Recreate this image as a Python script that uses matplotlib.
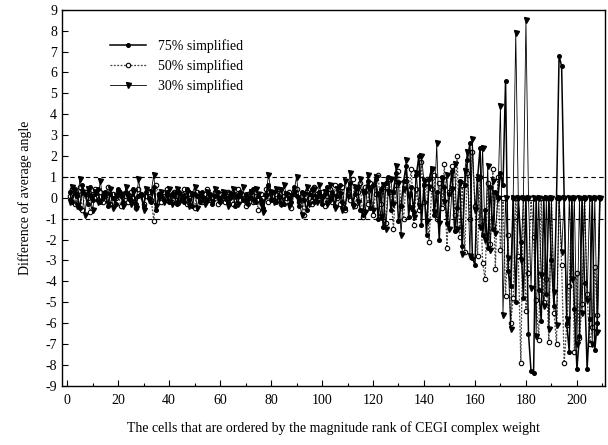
import matplotlib
matplotlib.use("Agg")
import matplotlib.pyplot as plt
from matplotlib.ticker import MultipleLocator
import numpy as np

plt.rcParams['font.family'] = ['Liberation Serif', 'DejaVu Serif']
plt.rcParams['axes.unicode_minus'] = False

# difference of average angle for each cell, ordered by CEGI weight rank
s75 = [
    0.3, -0.2, 0.4, 0.1, -0.5, 0.6, 0.2, -0.3, 0.5, -0.1, 0.2, 0.4, -0.2, 0.1, 0.3, -0.4, 0.2, 0.0, -0.3, 0.4,
    0.1, -0.2, 0.3, 0.2, -0.1, 0.4, -0.3, 0.1, 0.2, -0.4, 0.3, 0.0, -0.2, 0.5, -0.6, 0.2, 0.1, -0.1, 0.3, -0.2,
    0.2, 0.1, -0.3, 0.3, 0.0, -0.2, 0.4, -0.1, -0.4, 0.2, 0.1, -0.2, 0.3, 0.0, -0.1, 0.2, -0.3, 0.1, 0.3, -0.2,
    0.1, 0.3, -0.2, 0.0, 0.2, -0.4, 0.1, 0.3, -0.1, 0.2, -0.3, 0.0, 0.4, -0.2, 0.1, -0.1, -0.5, 0.2, 0.6, -0.1,
    0.3, -0.2, 0.1, 0.4, -0.3, 0.2, 0.0, -0.2, 0.5, 0.1, -0.4, 0.3, -0.1, -0.6, 0.2, 0.4, -0.2, 0.1, 0.3, -0.3,
    0.2, 0.5, -0.1, 0.3, -0.4, 0.1, 0.6, -0.2, -0.5, 0.4, 0.7, -0.3, 0.2, 0.5, -0.6, -0.8, 0.3, 0.8,
    -0.5, 0.6, 0.9, -1.0, 0.4, -1.4, 0.7, 1.0, -0.6, 0.3, 1.2, -1.1, -0.4, 0.8, 1.5, -0.9, 0.5, -0.7, 1.1, 2.0,
    -1.3, 0.6,
    -1.8, 0.9, 1.4, -0.8, 0.3, -2.0, 1.0, 0.5, -1.2, 0.2, 1.3, -1.6, -0.5, 0.8, -2.3, 0.6, 1.8, 2.6, -2.9, -3.2,
    0.9, 2.4, -1.8, -0.6, -2.4, 0.5, -1.5, 0.3,
    0.0, 1.2, 0.6, 5.6, -3.5, -4.2, 0.0, -5.0, 0.0, -2.1, -4.8, 0.0, -6.5, -8.3, -8.4, 0.0, -4.4, -5.9, 0.0, -4.6,
    0.0, -3.0, -5.2, 0.0, 6.8, 6.3, 0.0, -6.0, -7.4, 0.0, -5.3, -8.2, -6.6, 0.0, -4.1, -8.2, -5.8, 0.0, -7.3, -6.0,
    0.0,
]
s50 = [
    0.1, 0.4, -0.3, 0.2, 0.5, -0.6, 0.3, 0.0, -0.7, 0.2, 0.4, -0.1, 0.3, -0.2, 0.1, 0.5, -0.3, 0.2, 0.0, 0.3,
    -0.4, 0.2, 0.1, -0.2, 0.3, 0.0, -0.5, 0.4, 0.2, -0.3, 0.1, 0.3, -0.1, -1.1, 0.6, 0.2, -0.2, 0.1, 0.4, 0.0,
    -0.2, 0.3, 0.1, -0.1, 0.2, 0.4, -0.3, 0.0, 0.2, -0.5, 0.3, 0.1, -0.2, 0.2, 0.4, -0.1, 0.0, 0.3, -0.3, 0.2,
    0.0, -0.2, 0.3, 0.1, -0.3, 0.2, 0.4, -0.1, 0.0, -0.4, 0.2, 0.3, -0.2, 0.1, -0.6, 0.2, 0.0, 0.4, -0.2, 0.3,
    -0.1, 0.2, 0.4, -0.3, 0.1, 0.0, 0.3, -0.5, 0.2, 0.4, -0.2, 0.1, -0.8, 0.3, 0.0, -0.3, 0.5, 0.2, -0.1, 0.3,
    -0.4, 0.1, 0.4, -0.2, 0.6, 0.0, -0.3, 0.5, -0.6, 0.2, -0.1, 0.9, -0.4, 0.3, 0.7, -0.9, 0.5, -0.3,
    0.7, -0.8, 0.2, 1.1, -0.3, 0.5, -1.2, 0.9, 0.3, -1.5, 0.6, 1.3, -0.4, -1.0, 0.8, 0.2, 1.4, -1.3, 0.4, -0.6,
    1.7, -0.2,
    0.9, -2.1, 0.4, 1.1, -1.0, 0.7, -0.5, 1.6, -2.4, 0.3, 1.5, -0.8, 2.0, -1.9, 0.6, -2.6, 1.2, -1.0, 2.2, -0.4,
    -2.8, 1.0, -3.1, -3.9, 0.7, -2.2, 1.4, -3.4,
    1.0, -2.5, 0.0, -4.7, -1.8, -6.0, -4.8, 0.0, -2.8, -7.9, 0.0, -5.4, -3.6, 0.0, -1.9, -4.9, -6.8, 0.0, -5.0, -3.9,
    -6.9, 0.0, -5.5, -7.0, 0.0, -3.2, -7.9, -6.1, -4.2, 0.0, -7.4, -3.6, -6.7, -5.1, 0.0, -4.6, -7.0, -6.2, -3.3, -5.6,
    0.0,
]
s30 = [
    -0.2, 0.5, 0.2, -0.4, 0.9, 0.3, -0.8, 0.4, 0.1, -0.6, 0.3, -0.2, 0.8, 0.0, 0.2, -0.3, 0.4, -0.5, 0.1, 0.3,
    0.2, -0.4, 0.5, 0.0, -0.3, 0.3, -0.5, 0.9, 0.1, -0.6, 0.4, -0.1, 0.3, 1.1, -0.4, 0.0, 0.3, -0.2, 0.1, 0.4,
    -0.3, 0.2, 0.4, -0.2, 0.1, 0.0, 0.3, -0.4, 0.2, 0.5, -0.5, 0.2, 0.0, -0.3, 0.3, 0.1, -0.2, 0.4, 0.0, -0.1,
    0.3, 0.0, -0.4, 0.2, 0.4, 0.1, -0.3, 0.2, 0.5, -0.2, 0.0, 0.3, -0.1, 0.4, 0.2, -0.3, -0.7, 0.1, 1.1, 0.3,
    -0.2, 0.4, 0.0, -0.3, 0.6, 0.2, -0.4, 0.1, 0.3, 1.0, -0.1, -0.8, 0.2, 0.5, -0.3, 0.1, 0.4, -0.2, 0.6, 0.0,
    0.3, -0.3, 0.6, 0.1, -0.5, 0.4, 0.2, -0.6, 0.8, 0.1, 1.2, -0.4, 0.5, -0.2, 0.9, 0.3, -0.7, 1.1,
    0.4, -0.6, 1.0, 0.2, -0.9, 0.6, -1.5, 0.3, 0.9, -0.3, 1.5, 0.7, -1.8, 0.4, 1.8, 0.1, -0.5, -0.9, 1.2, -0.4,
    2.0, 0.8,
    -1.1, 0.5, 1.4, -0.7, 2.6, -1.2, 0.9, -0.2, 1.1, -1.5, 0.4, 1.6, -1.5, 0.7, -2.7, 1.3, 2.2, -2.8, 2.8, -0.6,
    1.0, -1.4, 2.4, -2.0, 1.5, -2.5, 0.8, -1.7,
    0.0, 4.4, -5.6, 0.0, -2.9, -6.3, 0.0, 7.9, 0.0, -3.0, 0.0, 8.5, 0.0, -4.3, 0.0, -6.6, 0.0, -3.7, -5.2, 0.0,
    -6.3, 0.0, -4.5, -6.1, 0.0, -2.6, 0.0, -5.8, 0.0, -3.9, 0.0, -7.0, 0.0, -5.5, 0.0, -4.9, 0.0, -7.0, 0.0, -6.4,
    0.0,
]
labels = ["75% simplified", "50% simplified", "30% simplified"]

fig = plt.figure(figsize=(6.08, 4.45), dpi=100)
ax = fig.add_axes([0.102, 0.133, 0.893, 0.845])

x75 = np.arange(1, len(s75) + 1)
x50 = np.arange(1, len(s50) + 1)
x30 = np.arange(1, len(s30) + 1)

ax.plot(x50, s50, color="#444444", linestyle=(0, (1.5, 1.2)), linewidth=0.9,
        marker="o", markersize=3.2, markerfacecolor="white", markeredgecolor="black",
        markeredgewidth=0.8, label=labels[1])
ax.plot(x30, s30, color="black", linewidth=0.6,
        marker="v", markersize=3.6, markerfacecolor="black", markeredgecolor="black",
        label=labels[2])
ax.plot(x75, s75, color="black", linewidth=1.1,
        marker="o", markersize=2.6, markerfacecolor="black", markeredgecolor="black",
        label=labels[0])

ax.axhline(1, color="black", linewidth=0.8, linestyle=(0, (4, 3)))
ax.axhline(-1, color="black", linewidth=0.8, linestyle=(0, (4, 3)))

ax.set_xlim(-2, 211)
ax.set_ylim(-9, 9)
ax.xaxis.set_major_locator(MultipleLocator(20))
ax.xaxis.set_minor_locator(MultipleLocator(10))
ax.yaxis.set_major_locator(MultipleLocator(1))
ax.tick_params(axis="both", which="major", direction="in", length=4, width=0.8,
               labelsize=10, right=False, top=False)
ax.tick_params(axis="x", which="minor", direction="in", length=2, width=0.8)
ax.tick_params(axis="x", pad=6)
for sp in ax.spines.values():
    sp.set_linewidth(1.0)

ax.set_xlabel("The cells that are ordered by the magnitude rank of CEGI complex weight",
              fontsize=10, labelpad=10)
ax.set_ylabel("Difference of average angle", fontsize=10, labelpad=10)

h, l = ax.get_legend_handles_labels()
order = [2, 0, 1]
ax.legend([h[i] for i in order], [l[i] for i in order], loc="upper left",
          bbox_to_anchor=(0.065, 0.955), frameon=False, fontsize=10,
          handlelength=2.6, labelspacing=0.45, handletextpad=0.9)

fig.savefig("out.png", dpi=100)
